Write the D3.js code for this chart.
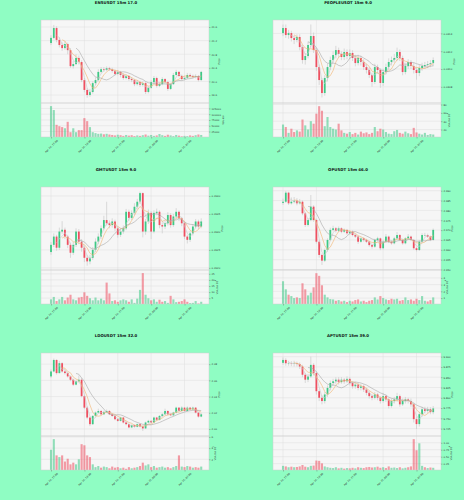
<!DOCTYPE html>
<html>
<head>
<meta charset="utf-8">
<script src="https://cdn.jsdelivr.net/npm/d3@7"></script>
<style>
  body { margin: 0; background: #8ffdc3; }
  svg { display: block; font-family: "DejaVu Sans", sans-serif; }
</style>
</head>
<body>
<div id="chart"></div>
<script>
// x axis (candle index) ticks
var xTickIdx = [0, 12, 24, 36, 48];
var xTickLabels = ["Apr 24, 15:00", "Apr 24, 18:00", "Apr 24, 21:00", "Apr 25, 00:00", "Apr 25, 03:00"];
var maWindows = [3, 5, 10];

// ENSUSDT
var ensOpen0 = 21.13;
var ensClose = [21.28,21.57,21.22,21.07,20.98,21.10,20.92,20.45,20.51,20.69,20.57,20.04,19.75,19.60,19.69,19.95,20.04,20.28,20.36,20.34,20.39,20.36,20.31,20.22,20.28,20.19,20.10,20.16,20.07,20.04,19.92,19.98,19.90,19.95,19.69,19.81,19.98,20.10,19.87,19.92,20.07,19.98,19.78,19.92,20.19,20.28,20.16,20.07,20.10,20.19,20.16,20.13,20.16,20.04,20.28];
var ensHigh = [21.36,21.66,21.62,21.30,21.15,21.18,21.14,20.98,20.60,20.80,20.76,20.62,20.10,19.80,19.78,20.00,20.12,20.36,20.42,20.42,20.44,20.43,20.40,20.36,20.33,20.31,20.24,20.21,20.19,20.12,20.08,20.04,20.02,20.00,19.99,19.86,20.04,20.16,20.14,19.98,20.12,20.10,20.02,19.96,20.25,20.34,20.31,20.20,20.16,20.25,20.24,20.20,20.21,20.19,20.31];
var ensLow = [21.07,21.24,21.15,21.00,20.90,20.93,20.80,20.40,20.38,20.48,20.50,19.98,19.68,19.52,19.55,19.64,19.90,20.00,20.24,20.28,20.30,20.31,20.26,20.17,20.18,20.12,20.05,20.06,20.02,19.98,19.86,19.88,19.84,19.85,19.63,19.65,19.78,19.95,19.82,19.83,19.89,19.94,19.72,19.75,19.90,20.15,20.12,20.03,20.04,20.08,20.12,20.10,20.09,20.00,20.02];
var ensVol = [135000,118000,54000,48000,44000,39000,67000,22000,39000,22000,31000,31000,83000,70000,44000,22000,18000,15000,16000,13000,15000,12000,10000,8000,11000,9000,6000,10000,7000,9000,5000,8000,6000,9000,12000,7000,10000,6000,8000,14000,9000,6000,11000,8000,5000,10000,7000,4000,6000,5000,8000,6000,9000,12000,10000];
var ensPriceTicks = [19.6, 20.0, 20.4, 20.8, 21.2, 21.6];
var ensVolTicks = [25000, 50000, 75000, 100000, 125000];

// PEOPLEUSDT
var peopleOpen0 = 0.031404;
var peopleClose = [0.031461,0.031382,0.031404,0.031348,0.031326,0.031360,0.031247,0.031101,0.031146,0.031270,0.031371,0.031213,0.031022,0.030876,0.030730,0.030899,0.031022,0.031101,0.031157,0.031213,0.031169,0.031135,0.031191,0.031146,0.031180,0.031124,0.031067,0.031124,0.031079,0.031022,0.030989,0.030933,0.030854,0.031022,0.030989,0.030843,0.030966,0.031022,0.031079,0.031101,0.031124,0.031191,0.031124,0.030966,0.031034,0.031079,0.031034,0.030989,0.030955,0.031011,0.031034,0.031045,0.031056,0.031067,0.031101];
var peopleHigh = [0.03150,0.03150,0.03144,0.03143,0.03138,0.03139,0.03139,0.03127,0.03118,0.03131,0.03150,0.03141,0.03124,0.03105,0.03090,0.03093,0.03106,0.03114,0.03120,0.03126,0.03124,0.03120,0.03123,0.03122,0.03122,0.03121,0.03116,0.03116,0.03115,0.03111,0.03106,0.03102,0.03096,0.03106,0.03105,0.03101,0.03100,0.03106,0.03112,0.03114,0.03117,0.03124,0.03122,0.03115,0.03107,0.03111,0.03110,0.03107,0.03102,0.03105,0.03107,0.03108,0.03109,0.03110,0.03113];
var peopleLow = [0.03137,0.03135,0.03134,0.03131,0.03128,0.03130,0.03121,0.03106,0.03105,0.03112,0.03124,0.03118,0.03098,0.03082,0.03068,0.03070,0.03086,0.03099,0.03107,0.03112,0.03113,0.03110,0.03110,0.03111,0.03111,0.03109,0.03103,0.03104,0.03104,0.03099,0.03095,0.03090,0.03080,0.03083,0.03095,0.03079,0.03081,0.03094,0.03099,0.03104,0.03107,0.03109,0.03109,0.03093,0.03094,0.03100,0.03100,0.03095,0.03088,0.03092,0.03098,0.03100,0.03101,0.03102,0.03103];
var peopleVol = [32e6,26e6,12e6,22e6,14e6,18e6,15e6,44e6,30e6,20e6,40e6,34e6,58e6,76e6,65e6,28e6,50e6,26e6,22e6,20e6,34e6,18e6,12e6,10e6,14e6,9e6,12e6,8e6,15e6,11e6,13e6,9e6,12e6,26e6,16e6,22e6,20e6,14e6,10e6,9e6,16e6,19e6,12e6,10e6,15e6,11e6,9e6,24e6,13e6,10e6,8e6,12e6,7e6,9e6,8e6];
var peoplePriceTicks = [0.0308, 0.0310, 0.0312, 0.0314];
var peopleVolTicks = [20e6, 40e6, 60e6, 80e6];

// GMTUSDT
var gmtOpen0 = 0.26244;
var gmtClose = [0.26264,0.26287,0.26256,0.26301,0.26306,0.26287,0.26264,0.26242,0.26264,0.26301,0.26273,0.26256,0.26228,0.26218,0.26228,0.26250,0.26273,0.26287,0.26310,0.26333,0.26324,0.26319,0.26329,0.26310,0.26292,0.26301,0.26310,0.26356,0.26339,0.26353,0.26370,0.26384,0.26408,0.26301,0.26329,0.26353,0.26301,0.26353,0.26356,0.26319,0.26315,0.26324,0.26347,0.26319,0.26343,0.26356,0.26338,0.26324,0.26287,0.26278,0.26296,0.26315,0.26329,0.26315,0.26329];
var gmtHigh = [0.26272,0.26296,0.26292,0.26312,0.26330,0.26312,0.26292,0.26270,0.26272,0.26310,0.26308,0.26280,0.26262,0.26236,0.26236,0.26258,0.26282,0.26296,0.26318,0.26345,0.26384,0.26332,0.26338,0.26334,0.26316,0.26310,0.26318,0.26364,0.26362,0.26360,0.26380,0.26392,0.26412,0.26410,0.26336,0.26362,0.26358,0.26360,0.26365,0.26360,0.26326,0.26332,0.26355,0.26352,0.26350,0.26366,0.26360,0.26342,0.26328,0.26292,0.26302,0.26322,0.26336,0.26334,0.26338];
var gmtLow = [0.26236,0.26258,0.26248,0.26250,0.26295,0.26280,0.26255,0.26228,0.26236,0.26258,0.26266,0.26245,0.26216,0.26206,0.26210,0.26222,0.26244,0.26266,0.26280,0.26304,0.26318,0.26310,0.26312,0.26302,0.26284,0.26286,0.26295,0.26305,0.26330,0.26333,0.26346,0.26364,0.26378,0.26285,0.26292,0.26322,0.26280,0.26296,0.26346,0.26310,0.26296,0.26308,0.26318,0.26312,0.26314,0.26338,0.26330,0.26316,0.26280,0.26268,0.26272,0.26290,0.26310,0.26308,0.26310];
var gmtVol = [4.0e6,6.0e6,2.6e6,4.0e6,6.0e6,3.2e6,5.5e6,7.8e6,4.0e6,3.2e6,5.5e6,6.0e6,9.8e6,6.9e6,4.9e6,3.2e6,5.5e6,3.2e6,4.6e6,3.2e6,17.8e6,8.9e6,2.6e6,3.2e6,2.0e6,3.2e6,4.0e6,3.2e6,2.0e6,4.0e6,1.1e6,4.6e6,11.8e6,25.6e6,7.8e6,4.9e6,3.2e6,4.0e6,2.0e6,3.7e6,2.0e6,2.6e6,1.1e6,6.9e6,4.0e6,1.7e6,2.0e6,2.6e6,4.0e6,2.0e6,0.9e6,1.1e6,2.6e6,0.6e6,2.0e6];
var gmtPriceTicks = [0.2620, 0.2625, 0.2630, 0.2635, 0.2640];
var gmtVolTicks = [5e6, 10e6, 15e6, 20e6, 25e6];

// OPUSDT
var opOpen0 = 2.6838;
var opClose = [2.6844,2.6890,2.6836,2.6844,2.6849,2.6836,2.6844,2.6785,2.6726,2.6751,2.6819,2.6751,2.6641,2.6574,2.6545,2.6599,2.6650,2.6701,2.6709,2.6697,2.6709,2.6692,2.6701,2.6684,2.6692,2.6675,2.6667,2.6641,2.6658,2.6650,2.6641,2.6624,2.6616,2.6650,2.6658,2.6608,2.6641,2.6667,2.6641,2.6633,2.6658,2.6675,2.6650,2.6633,2.6658,2.6667,2.6650,2.6608,2.6599,2.6641,2.6675,2.6675,2.6667,2.6650,2.6701];
var opHigh = [2.6860,2.6898,2.6895,2.6866,2.6868,2.6862,2.6858,2.6850,2.6792,2.6760,2.6878,2.6826,2.6758,2.6648,2.6582,2.6606,2.6658,2.6712,2.6722,2.6716,2.6718,2.6714,2.6708,2.6706,2.6698,2.6698,2.6680,2.6672,2.6664,2.6664,2.6656,2.6646,2.6630,2.6656,2.6666,2.6662,2.6648,2.6680,2.6672,2.6648,2.6666,2.6690,2.6680,2.6656,2.6664,2.6680,2.6672,2.6655,2.6614,2.6648,2.6684,2.6686,2.6682,2.6672,2.6708];
var opLow = [2.6828,2.6838,2.6828,2.6830,2.6836,2.6826,2.6830,2.6776,2.6716,2.6718,2.6745,2.6742,2.6632,2.6560,2.6523,2.6538,2.6590,2.6644,2.6694,2.6688,2.6690,2.6684,2.6686,2.6676,2.6676,2.6668,2.6660,2.6630,2.6636,2.6642,2.6634,2.6616,2.6606,2.6610,2.6644,2.6598,2.6602,2.6636,2.6634,2.6626,2.6628,2.6652,2.6644,2.6626,2.6628,2.6652,2.6644,2.6600,2.6592,2.6594,2.6636,2.6668,2.6660,2.6644,2.6646];
var opVol = [3.5e6,2.3e6,1.5e6,1.3e6,1.0e6,1.1e6,1.0e6,3.2e6,2.3e6,1.4e6,1.8e6,2.6e6,4.7e6,4.3e6,2.9e6,1.5e6,1.1e6,0.85e6,0.8e6,0.6e6,0.7e6,0.5e6,0.6e6,0.4e6,0.6e6,0.5e6,0.7e6,0.8e6,0.5e6,0.6e6,0.4e6,0.6e6,0.7e6,1.1e6,0.8e6,1.3e6,1.0e6,0.8e6,0.7e6,0.9e6,0.8e6,0.9e6,0.6e6,0.7e6,1.1e6,0.7e6,0.8e6,0.6e6,0.9e6,0.7e6,1.3e6,0.6e6,0.5e6,0.7e6,1.1e6];
var opPriceTicks = [2.650, 2.655, 2.660, 2.665, 2.670, 2.675, 2.680, 2.685, 2.690];
var opVolTicks = [1e6, 2e6, 3e6, 4e6];

// LDOUSDT
var ldoOpen0 = 2.0649;
var ldoClose = [2.0710,2.0852,2.0690,2.0812,2.0710,2.0690,2.0649,2.0608,2.0547,2.0588,2.0608,2.0405,2.0263,2.0141,2.0059,2.0161,2.0202,2.0222,2.0181,2.0210,2.0222,2.0181,2.0161,2.0120,2.0100,2.0141,2.0080,2.0059,2.0019,2.0047,2.0027,2.0059,2.0031,2.0007,2.0080,2.0100,2.0080,2.0141,2.0112,2.0161,2.0181,2.0222,2.0181,2.0169,2.0202,2.0263,2.0222,2.0263,2.0222,2.0263,2.0242,2.0263,2.0202,2.0153,2.0181];
var ldoHigh = [2.0735,2.0870,2.0860,2.0840,2.0825,2.0730,2.0702,2.0660,2.0620,2.0600,2.0660,2.0630,2.0420,2.0280,2.0155,2.0172,2.0215,2.0250,2.0235,2.0225,2.0240,2.0232,2.0190,2.0170,2.0130,2.0150,2.0148,2.0090,2.0068,2.0058,2.0055,2.0068,2.0065,2.0040,2.0090,2.0112,2.0108,2.0152,2.0150,2.0172,2.0195,2.0250,2.0230,2.0190,2.0212,2.0275,2.0270,2.0280,2.0272,2.0278,2.0272,2.0275,2.0270,2.0210,2.0195];
var ldoLow = [2.0630,2.0700,2.0672,2.0684,2.0695,2.0672,2.0635,2.0590,2.0530,2.0538,2.0580,2.0390,2.0245,2.0120,2.0035,2.0050,2.0150,2.0195,2.0170,2.0172,2.0200,2.0172,2.0150,2.0108,2.0088,2.0092,2.0068,2.0045,2.0008,2.0010,2.0015,2.0018,2.0020,1.9975,2.0000,2.0072,2.0068,2.0072,2.0100,2.0105,2.0152,2.0175,2.0170,2.0158,2.0160,2.0195,2.0212,2.0215,2.0212,2.0215,2.0232,2.0235,2.0192,2.0140,2.0145];
var ldoVol = [3.7e5,5.6e5,2.7e5,2.4e5,2.7e5,1.6e5,2.1e5,1.1e5,1.4e5,1.1e5,2.0e5,4.7e5,4.5e5,2.7e5,2.4e5,1.1e5,0.6e5,0.8e5,0.5e5,0.7e5,0.6e5,0.4e5,0.7e5,0.5e5,0.6e5,0.4e5,0.5e5,0.3e5,0.6e5,0.4e5,0.5e5,0.6e5,0.8e5,1.4e5,0.9e5,1.1e5,0.6e5,0.8e5,0.5e5,0.6e5,0.7e5,0.5e5,0.6e5,0.4e5,0.6e5,0.8e5,2.7e5,0.7e5,0.6e5,0.8e5,0.7e5,0.5e5,0.6e5,0.5e5,0.7e5];
var ldoPriceTicks = [2.00, 2.02, 2.04, 2.06, 2.08];
var ldoVolTicks = [2e5, 4e5, 6e5];

// APTUSDT
var aptOpen0 = 9.885;
var aptClose = [9.892,9.884,9.884,9.883,9.884,9.882,9.876,9.856,9.844,9.852,9.880,9.860,9.816,9.800,9.792,9.808,9.824,9.836,9.840,9.844,9.838,9.844,9.840,9.846,9.836,9.828,9.832,9.824,9.828,9.820,9.812,9.804,9.800,9.808,9.800,9.792,9.804,9.796,9.780,9.792,9.796,9.804,9.784,9.792,9.796,9.792,9.784,9.748,9.736,9.760,9.772,9.768,9.772,9.765,9.774];
var aptHigh = [9.898,9.896,9.890,9.889,9.890,9.888,9.886,9.880,9.860,9.858,9.900,9.884,9.864,9.820,9.806,9.814,9.830,9.842,9.846,9.850,9.850,9.850,9.848,9.852,9.850,9.840,9.838,9.836,9.834,9.832,9.824,9.816,9.808,9.814,9.812,9.804,9.812,9.808,9.800,9.798,9.802,9.812,9.808,9.798,9.802,9.800,9.798,9.788,9.754,9.766,9.778,9.778,9.778,9.777,9.780];
var aptLow = [9.880,9.878,9.878,9.877,9.876,9.876,9.870,9.850,9.836,9.838,9.848,9.854,9.808,9.792,9.784,9.786,9.802,9.818,9.830,9.834,9.832,9.834,9.834,9.836,9.830,9.822,9.822,9.818,9.818,9.814,9.806,9.798,9.794,9.796,9.794,9.786,9.788,9.790,9.774,9.776,9.786,9.790,9.778,9.780,9.786,9.786,9.778,9.740,9.724,9.730,9.754,9.762,9.762,9.760,9.760];
var aptVol = [0.17e6,0.15e6,0.12e6,0.14e6,0.12e6,0.13e6,0.15e6,0.20e6,0.14e6,0.12e6,0.17e6,0.18e6,0.36e6,0.35e6,0.26e6,0.15e6,0.12e6,0.10e6,0.09e6,0.12e6,0.08e6,0.10e6,0.07e6,0.09e6,0.08e6,0.10e6,0.08e6,0.12e6,0.10e6,0.09e6,0.12e6,0.13e6,0.11e6,0.12e6,0.14e6,0.10e6,0.12e6,0.09e6,0.15e6,0.10e6,0.11e6,0.09e6,0.12e6,0.08e6,0.10e6,0.12e6,0.15e6,1.13e6,0.73e6,0.98e6,0.17e6,0.12e6,0.09e6,0.11e6,0.10e6];
var aptPriceTicks = [9.725, 9.750, 9.775, 9.800, 9.825, 9.850, 9.875, 9.900];
var aptVolTicks = [0.25e6, 0.50e6, 0.75e6, 1.00e6];

function loadchart() {
    var w = 464, h = 500;
    var rowTops = [20, 187, 353];
    var upColor = "#3dc985", downColor = "#ef4f60";
    var maColors = ["#c9c9c9", "#f2b46f", "#a8a8a8"];
    var fs = 2.5;

    var panels = [
        {title: "ENSUSDT 15m 17.0", col: 0, row: 0, open0: ensOpen0, close: ensClose, high: ensHigh, low: ensLow, vol: ensVol,
         pTicks: ensPriceTicks, pDomain: [19.366, 21.806], pFmt: ".1f", vTicks: ensVolTicks, vExp: 0, vFmt: "d"},
        {title: "PEOPLEUSDT 15m 9.0", col: 1, row: 0, open0: peopleOpen0, close: peopleClose, high: peopleHigh, low: peopleLow, vol: peopleVol,
         pTicks: peoplePriceTicks, pDomain: [0.030618, 0.031551], pFmt: ".4f", vTicks: peopleVolTicks, vExp: 6, vFmt: "d"},
        {title: "GMTUSDT 15m 9.0", col: 0, row: 1, open0: gmtOpen0, close: gmtClose, high: gmtHigh, low: gmtLow, vol: gmtVol,
         pTicks: gmtPriceTicks, pDomain: [0.26194, 0.26425], pFmt: ".4f", vTicks: gmtVolTicks, vExp: 6, vFmt: "d"},
        {title: "OPUSDT 15m 46.0", col: 1, row: 1, open0: opOpen0, close: opClose, high: opHigh, low: opLow, vol: opVol,
         pTicks: opPriceTicks, pDomain: [2.64975, 2.69188], pFmt: ".3f", vTicks: opVolTicks, vExp: 6, vFmt: "d"},
        {title: "LDOUSDT 15m 32.0", col: 0, row: 2, open0: ldoOpen0, close: ldoClose, high: ldoHigh, low: ldoLow, vol: ldoVol,
         pTicks: ldoPriceTicks, pDomain: [1.9913, 2.0938], pFmt: ".2f", vTicks: ldoVolTicks, vExp: 5, vFmt: "d"},
        {title: "APTUSDT 15m 39.0", col: 1, row: 2, open0: aptOpen0, close: aptClose, high: aptHigh, low: aptLow, vol: aptVol,
         pTicks: aptPriceTicks, pDomain: [9.707, 9.9089], pFmt: ".3f", vTicks: aptVolTicks, vExp: 6, vFmt: ".2f"}
    ];

    var svg = d3.select("#chart").append("svg")
                .attr("width", w)
                .attr("height", h);

    svg.append("rect").attr("width", w).attr("height", h).attr("fill", "#8ffdc3");

    panels.forEach(function(p) {
        var top = rowTops[p.row];
        var left = 41, right = 209, split = top + 83, bottom = top + 117;
        var g = svg.append("g").attr("transform", "translate(" + (p.col * 232) + ",0)");

        var x = d3.scaleLinear().domain([-3.6, 56.8]).range([left, right]);
        var step = x(1) - x(0);
        var y = d3.scaleLinear().domain(p.pDomain).range([split, top]);
        var yv = d3.scaleLinear().domain([d3.min(p.vol) * 0.3, d3.max(p.vol) * 1.1]).range([bottom, split]);

        var candles = p.close.map(function(c, i) {
            var o = i === 0 ? p.open0 : p.close[i - 1];
            return {i: i, o: o, c: c, hi: p.high[i], lo: p.low[i], v: p.vol[i], up: c >= o};
        });

        // title
        g.append("text")
         .attr("x", 116).attr("y", top - 17)
         .attr("text-anchor", "middle").attr("dominant-baseline", "middle")
         .attr("font-size", 3.9).attr("font-weight", "bold").attr("fill", "#111")
         .text(p.title);

        // faces
        g.append("rect").attr("x", left).attr("y", top).attr("width", right - left).attr("height", split - top)
         .attr("fill", "#f6f6f6");
        g.append("rect").attr("x", left).attr("y", split).attr("width", right - left).attr("height", bottom - split)
         .attr("fill", "#f6f6f6");

        // grid
        var grid = g.append("g").attr("stroke", "#dedede").attr("stroke-width", 0.5);
        xTickIdx.forEach(function(t) {
            grid.append("line").attr("x1", x(t)).attr("x2", x(t)).attr("y1", top).attr("y2", bottom);
        });
        p.pTicks.forEach(function(t) {
            grid.append("line").attr("x1", left).attr("x2", right).attr("y1", y(t)).attr("y2", y(t));
        });
        p.vTicks.forEach(function(t) {
            grid.append("line").attr("x1", left).attr("x2", right).attr("y1", yv(t)).attr("y2", yv(t));
        });

        // volume bars
        g.append("g").selectAll("rect")
         .data(candles)
         .enter()
         .append("rect")
         .attr("x", function(d) { return x(d.i) - step * 0.38; })
         .attr("width", step * 0.76)
         .attr("y", function(d) { return yv(d.v); })
         .attr("height", function(d) { return bottom - yv(d.v); })
         .attr("fill", function(d) { return d.up ? upColor : downColor; })
         .attr("fill-opacity", 0.55);

        // wicks
        g.append("g").selectAll("line")
         .data(candles)
         .enter()
         .append("line")
         .attr("x1", function(d) { return x(d.i); })
         .attr("x2", function(d) { return x(d.i); })
         .attr("y1", function(d) { return y(d.hi); })
         .attr("y2", function(d) { return y(d.lo); })
         .attr("stroke", "#c4c4c4")
         .attr("stroke-width", 0.6);

        // bodies
        g.append("g").selectAll("rect")
         .data(candles)
         .enter()
         .append("rect")
         .attr("x", function(d) { return x(d.i) - step * 0.32; })
         .attr("width", step * 0.64)
         .attr("y", function(d) { return y(Math.max(d.o, d.c)); })
         .attr("height", function(d) { return Math.max(0.4, Math.abs(y(d.o) - y(d.c))); })
         .attr("fill", function(d) { return d.up ? upColor : downColor; });

        // moving averages
        maWindows.forEach(function(win, k) {
            var ma = p.close.map(function(c, i) {
                return i < win - 1 ? null : d3.mean(p.close.slice(i - win + 1, i + 1));
            });
            var line = d3.line()
                         .defined(function(d) { return d !== null; })
                         .x(function(d, i) { return x(i); })
                         .y(function(d) { return y(d); });
            g.append("path").datum(ma)
             .attr("d", line)
             .attr("fill", "none")
             .attr("stroke", maColors[k])
             .attr("stroke-width", 0.6);
        });

        // frames
        g.append("rect").attr("x", left).attr("y", top).attr("width", right - left).attr("height", split - top)
         .attr("fill", "none").attr("stroke", "#cfcfcf").attr("stroke-width", 0.5);
        g.append("rect").attr("x", left).attr("y", split).attr("width", right - left).attr("height", bottom - split)
         .attr("fill", "none").attr("stroke", "#cfcfcf").attr("stroke-width", 0.5);

        // right axes
        var pAxis = g.append("g").attr("transform", "translate(" + right + ",0)")
                     .call(d3.axisRight(y).tickValues(p.pTicks).tickSize(1.5).tickPadding(1).tickFormat(d3.format(p.pFmt)));
        var vf = d3.format(p.vFmt);
        var vAxis = g.append("g").attr("transform", "translate(" + right + ",0)")
                     .call(d3.axisRight(yv).tickValues(p.vTicks).tickSize(1.5).tickPadding(1)
                     .tickFormat(function(v) { return vf(v / Math.pow(10, p.vExp)); }));

        function widest(a) {
            var m = 0;
            a.selectAll("text").each(function() { m = Math.max(m, this.getComputedTextLength()); });
            return m;
        }
        [pAxis, vAxis].forEach(function(a) {
            a.select(".domain").remove();
            a.selectAll("line").attr("stroke", "#666").attr("stroke-width", 0.4);
            a.selectAll("text").attr("font-size", fs).attr("fill", "#333").attr("font-family", "DejaVu Sans");
        });

        g.append("text")
         .attr("transform", "translate(" + (right + 2.5 + widest(pAxis) + 2) + "," + ((top + split) / 2) + ") rotate(-90)")
         .attr("text-anchor", "middle").attr("dominant-baseline", "middle")
         .attr("font-size", fs).attr("fill", "#333")
         .text("Price");

        var vl = g.append("text")
         .attr("transform", "translate(" + (right + 2.5 + widest(vAxis) + 2) + "," + ((split + bottom) / 2) + ") rotate(-90)")
         .attr("text-anchor", "middle").attr("dominant-baseline", "middle")
         .attr("font-size", fs).attr("fill", "#333");
        vl.append("tspan").text(p.vExp ? "Volume  10" : "Volume");
        if (p.vExp) {
            vl.append("tspan").attr("dy", -0.9).attr("font-size", 1.8).text(p.vExp);
        }

        // x axis
        var xa = g.append("g").attr("transform", "translate(0," + bottom + ")")
                  .call(d3.axisBottom(x).tickValues(xTickIdx).tickSize(1.5)
                  .tickFormat(function(d, i) { return xTickLabels[i]; }));
        xa.select(".domain").remove();
        xa.selectAll("line").attr("stroke", "#666").attr("stroke-width", 0.4);
        xa.selectAll("text")
          .attr("font-size", fs).attr("fill", "#333").attr("font-family", "DejaVu Sans")
          .attr("text-anchor", "middle").attr("dy", null)
          .attr("dominant-baseline", "middle")
          .each(function() {
              var len = this.getComputedTextLength();
              var off = 2.5 + (len + fs) * 0.7071 / 2;
              d3.select(this).attr("y", 0).attr("transform", "translate(0," + off + ") rotate(-45)");
          });
    });
}

window.onload = loadchart;
</script>
</body>
</html>
